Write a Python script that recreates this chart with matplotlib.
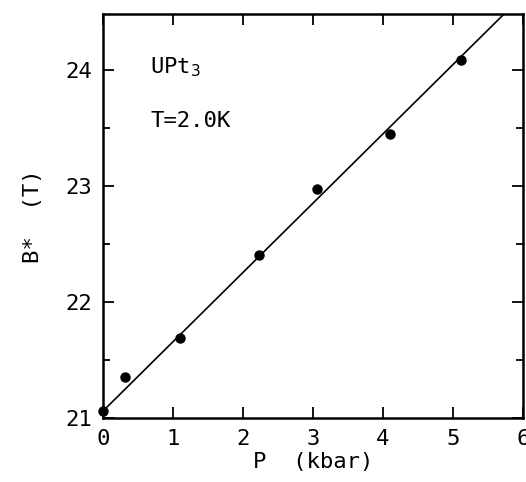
import matplotlib.pyplot as plt

# measured points, UPt3 at T = 2.0 K
pressure = [0.0, 0.31, 1.10, 2.23, 3.06, 4.10, 5.11]
b_star = [21.06, 21.35, 21.69, 22.40, 22.97, 23.45, 24.08]

# straight line through the data
fit_p = [0.0, 6.0]
fit_b = [21.06, 24.64]

x_ticks = [0, 1, 2, 3, 4, 5, 6]
y_ticks = [21, 22, 23, 24]
y_minor = [21.5, 22.5, 23.5]

plt.rcParams['font.family'] = ['DejaVu Sans Mono']

fig = plt.figure(figsize=(5.26, 4.82), dpi=100)
ax = fig.add_axes([0.196, 0.133, 0.798, 0.838])

ax.plot(fit_p, fit_b, color='black', linewidth=1.2)
ax.plot(pressure, b_star, 'o', color='black', markersize=6.5, clip_on=False)

ax.set_xlim(0, 6)
ax.set_ylim(21, 24.48)
ax.set_xticks(x_ticks)
ax.set_yticks(y_ticks)
ax.set_yticks(y_minor, minor=True)
ax.tick_params(which='both', direction='in', top=True, right=True,
               width=1.3, labelsize=16, pad=8)
ax.tick_params(which='major', length=8)
ax.tick_params(which='minor', length=5)
for s in ax.spines.values():
    s.set_linewidth(1.8)

ax.set_xlabel('P  (kbar)', fontsize=16, labelpad=2)
ax.set_ylabel('B*  (T)', fontsize=16, labelpad=16)

ax.text(0.112, 0.868, 'UPt$_3$', transform=ax.transAxes, fontsize=16,
        va='center')
ax.text(0.112, 0.735, 'T=2.0K', transform=ax.transAxes, fontsize=16,
        va='center')

plt.savefig('out.png', dpi=100)
